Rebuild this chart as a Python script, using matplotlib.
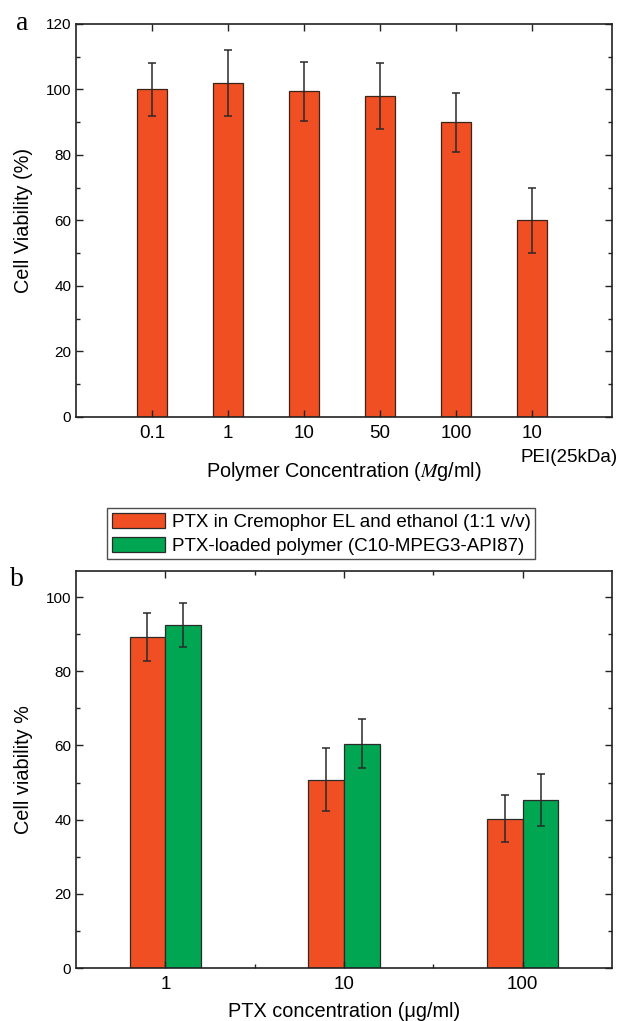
import numpy as np
import matplotlib
matplotlib.use("Agg")
import matplotlib.pyplot as plt
from matplotlib.ticker import MultipleLocator, FixedLocator
import matplotlib.transforms as mtransforms

plt.rcParams["font.family"] = ["Liberation Sans", "DejaVu Sans"]
plt.rcParams["mathtext.fontset"] = "stix"

# panel a data
conc_labels = ["0.1", "1", "10", "50", "100", "10"]
viab_a = [100, 102, 99.5, 98, 90, 60]
err_a = [8, 10, 9, 10, 9, 10]

# panel b data
ptx_labels = ["1", "10", "100"]
viab_cremophor = [89.2, 50.8, 40.2]
err_cremophor = [6.5, 8.5, 6.3]
viab_polymer = [92.5, 60.5, 45.3]
err_polymer = [6.0, 6.5, 7.1]

orange = "#F04F23"
green = "#00A651"
edge = "#2a2a2a"

fig = plt.figure(figsize=(6.27, 10.21), dpi=100)
ax1 = fig.add_axes([0.1212, 0.5916, 0.855, 0.385])
ax2 = fig.add_axes([0.1212, 0.0519, 0.855, 0.3888])


def style_axes(ax):
    for s in ax.spines.values():
        s.set_linewidth(1.2)
        s.set_color("#222222")
    ax.tick_params(which="both", direction="in", top=True, right=True,
                   color="#222222")
    ax.tick_params(axis="y", labelsize=11)
    ax.tick_params(axis="x", labelsize=13.5, pad=6)
    ax.tick_params(which="major", length=5, width=1)
    ax.tick_params(which="minor", length=3, width=1)


# ---- panel a
x = np.arange(len(viab_a))
ax1.bar(x, viab_a, width=0.4, color=orange, edgecolor="#3a2418", linewidth=0.9)
ax1.errorbar(x, viab_a, yerr=err_a, fmt="none", ecolor=edge, elinewidth=1.1,
             capsize=3, capthick=1.1)
ax1.set_xlim(-1, 6.05)
ax1.set_ylim(0, 120)
ax1.set_xticks(x)
ax1.set_xticklabels(conc_labels)
ax1.yaxis.set_major_locator(MultipleLocator(20))
ax1.yaxis.set_minor_locator(MultipleLocator(10))
style_axes(ax1)
ax1.set_ylabel("Cell Viability (%)", fontsize=14.3, labelpad=9)
ax1.set_xlabel(r"Polymer Concentration ($M$g/ml)", fontsize=14.3)
ax1.xaxis.set_label_coords(0.5, -0.11)
trans = mtransforms.blended_transform_factory(ax1.transData, ax1.transAxes)
ax1.text(x[-1] - 0.15, -0.102, "PEI(25kDa)", transform=trans, fontsize=13.5,
         ha="left", va="center")
fig.text(0.026, 0.977, "a", family="Liberation Serif", fontsize=20,
         ha="left", va="center")

# ---- panel b
xb = np.arange(len(ptx_labels))
w = 0.2
ax2.bar(xb - w / 2, viab_cremophor, width=w, color=orange, edgecolor=edge,
        linewidth=0.9, label="PTX in Cremophor EL and ethanol (1:1 v/v)")
ax2.bar(xb + w / 2, viab_polymer, width=w, color=green, edgecolor=edge,
        linewidth=0.9, label="PTX-loaded polymer (C10-MPEG3-API87)")
ax2.errorbar(xb - w / 2, viab_cremophor, yerr=err_cremophor, fmt="none",
             ecolor=edge, elinewidth=1.1, capsize=3, capthick=1.1)
ax2.errorbar(xb + w / 2, viab_polymer, yerr=err_polymer, fmt="none",
             ecolor=edge, elinewidth=1.1, capsize=3, capthick=1.1)
ax2.set_xlim(-0.5, 2.5)
ax2.set_ylim(0, 107)
ax2.set_xticks(xb)
ax2.set_xticklabels(ptx_labels)
ax2.xaxis.set_minor_locator(FixedLocator([0.5, 1.5]))
ax2.yaxis.set_major_locator(MultipleLocator(20))
ax2.yaxis.set_minor_locator(MultipleLocator(10))
style_axes(ax2)
ax2.set_ylabel("Cell viability %", fontsize=14.3, labelpad=9)
ax2.set_xlabel("PTX concentration (\u03bcg/ml)", fontsize=14.3)
ax2.xaxis.set_label_coords(0.5, -0.085)
fig.text(0.016, 0.432, "b", family="Liberation Serif", fontsize=20,
         ha="left", va="center")

leg = fig.legend(loc="upper left", bbox_to_anchor=(0.1707, 0.5025),
                 fontsize=13.5, frameon=True, fancybox=False,
                 handlelength=2.85, handleheight=0.9, handletextpad=0.35,
                 borderpad=0.25, labelspacing=0.3, borderaxespad=0)
leg.get_frame().set_edgecolor("#222222")
leg.get_frame().set_linewidth(1.0)

fig.savefig("out.png", dpi=100)
